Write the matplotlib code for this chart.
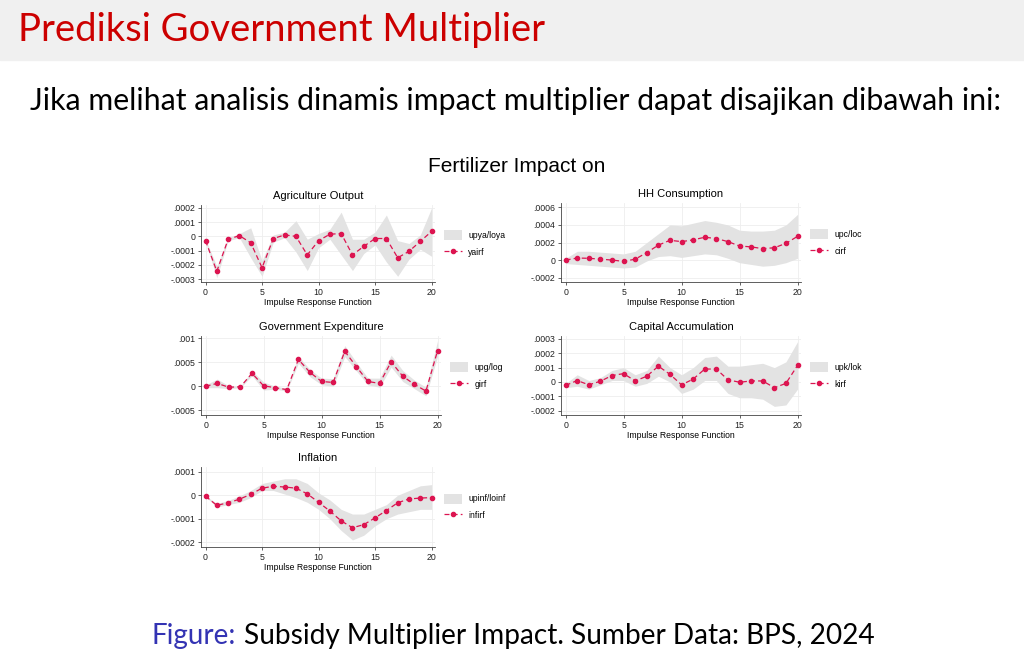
import numpy as np
import matplotlib
matplotlib.use("Agg")
import matplotlib.pyplot as plt
from matplotlib.patches import Patch, Rectangle
from matplotlib.lines import Line2D
from matplotlib.ticker import FuncFormatter

steps = list(range(21))

# Agriculture Output
agri_irf = [-0.00003, -0.000245, -0.00002, 0.000005, -0.000045, -0.00022, -0.000015, 0.00001, 0.0,
            -0.00013, -0.00003, 0.000015, 0.00002, -0.00013, -0.00007, -0.000015, -0.000015,
            -0.00015, -0.000105, -0.000035, 0.000035]
agri_up = [-0.00002, -0.00021, -0.00001, 0.00002, 0.00006, -0.00017, 0.00001, 0.00003, 0.00011,
           -0.00002, 0.00002, 0.00005, 0.00017, -0.00002, -0.00002, 0.00003, 0.00015,
           -0.00003, -0.00005, 0.00001, 0.0002]
agri_lo = [-0.00004, -0.00029, -0.00003, -0.00001, -0.00015, -0.00028, -0.00004, -0.00001, -0.00011,
           -0.00024, -0.00008, -0.00002, -0.00013, -0.00024, -0.00012, -0.00006, -0.00018,
           -0.00028, -0.00016, -0.00009, -0.00014]

# HH Consumption
hh_irf = [0.0, 0.000023, 0.00002, 0.00001, 0.0, -0.000015, 0.00001, 0.000085, 0.00017, 0.000225,
          0.00021, 0.00023, 0.00026, 0.000245, 0.00021, 0.00016, 0.00015, 0.00013, 0.00014,
          0.00019, 0.00027]
hh_up = [0.00002, 0.0001, 0.0001, 0.00009, 0.00008, 0.00007, 0.0001, 0.0002, 0.0003, 0.0004,
         0.00039, 0.00042, 0.00045, 0.00043, 0.0004, 0.00034, 0.00033, 0.00033, 0.00034,
         0.0004, 0.00052]
hh_lo = [-0.00004, -0.00005, -0.00006, -0.00007, -0.00008, -0.00009, -0.00008, -0.00001, 0.00004,
         0.00005, 0.00003, 0.00005, 0.00007, 0.00006, 0.00002, -0.00003, -0.00005, -0.00007,
         -0.00006, -0.00003, 0.00002]

# Government Expenditure
gov_irf = [0.0, 0.00006, -0.00002, -0.00001, 0.00027, 0.00001, -0.00003, -0.00007, 0.00056, 0.00029,
           0.0001, 0.00008, 0.00073, 0.00041, 0.0001, 0.00006, 0.00051, 0.00021, 0.00004,
           -0.0001, 0.00074]
gov_up = [0.00003, 0.00015, 0.00001, 0.0, 0.00032, 0.00009, 0.0, -0.00004, 0.00063, 0.00035,
          0.00017, 0.00016, 0.00085, 0.0005, 0.00017, 0.00017, 0.00065, 0.00033, 0.00013,
          -0.00002, 0.00095]
gov_lo = [-0.00003, -0.00003, -0.00005, -0.00003, 0.00022, -0.00008, -0.00006, -0.0001, 0.00048,
          0.0002, 0.00003, 0.0, 0.00062, 0.00032, 0.00003, -0.00002, 0.0004, 0.0001, -0.00005,
          -0.0002, 0.00062]

# Capital Accumulation
cap_irf = [-0.000024, 0.00001, -0.00002, 0.000005, 0.000045, 0.000058, 0.000007, 0.00004, 0.00011,
           0.000053, -0.00002, 0.00002, 0.00009, 0.00009, 0.000015, -0.000002, 0.000007,
           0.000007, -0.00004, -0.00001, 0.000115]
cap_up = [-0.00001, 0.00005, 0.00001, 0.00003, 0.00008, 0.0001, 0.00005, 0.00008, 0.00018, 0.0001,
          0.00005, 0.0001, 0.00017, 0.00018, 0.00011, 0.00011, 0.00012, 0.00013, 0.0001,
          0.00014, 0.00028]
cap_lo = [-0.00004, -0.00003, -0.00005, -0.00002, 0.00001, 0.00001, -0.00003, -0.00001, 0.00004,
          0.0, -0.00008, -0.00005, 0.00001, 0.00001, -0.00008, -0.00011, -0.00011, -0.00012,
          -0.00017, -0.00016, -0.00005]

# Inflation
inf_irf = [-0.000004, -0.000043, -0.000032, -0.000017, 0.000004, 0.00003, 0.000038, 0.000035,
           0.00003, 0.000006, -0.00003, -0.000067, -0.000109, -0.000138, -0.000125, -0.000096,
           -0.000065, -0.000032, -0.000016, -0.000012, -0.00001]
inf_up = [-0.000002, -0.000035, -0.000022, -0.000003, 0.00002, 0.00005, 0.00006, 0.00007, 0.00007,
          0.00005, 0.00001, -0.00002, -0.00006, -0.00008, -0.00008, -0.00006, -0.00004, 0.0,
          0.00002, 0.00004, 0.000045]
inf_lo = [-0.000006, -0.00005, -0.00004, -0.00003, -0.00001, 0.00002, 0.00002, 0.000005, -0.00001,
          -0.00003, -0.00006, -0.0001, -0.00015, -0.00019, -0.00017, -0.00013, -0.0001,
          -0.00008, -0.00007, -0.00006, -0.00006]

panels = [
    ("Agriculture Output", agri_irf, agri_up, agri_lo, "upya/loya", "yairf",
     [-0.0003, -0.0002, -0.0001, 0, 0.0001, 0.0002], (-0.00032, 0.00022), (201, 205, 435, 282)),
    ("HH Consumption", hh_irf, hh_up, hh_lo, "upc/loc", "cirf",
     [-0.0002, 0, 0.0002, 0.0004, 0.0006], (-0.00025, 0.00065), (561, 203, 801, 282)),
    ("Government Expenditure", gov_irf, gov_up, gov_lo, "upg/log", "girf",
     [-0.0005, 0, 0.0005, 0.001], (-0.0006, 0.00105), (201, 336, 441, 415)),
    ("Capital Accumulation", cap_irf, cap_up, cap_lo, "upk/lok", "kirf",
     [-0.0002, -0.0001, 0, 0.0001, 0.0002, 0.0003], (-0.00023, 0.00032), (561, 336, 801, 415)),
    ("Inflation", inf_irf, inf_up, inf_lo, "upinf/loinf", "infirf",
     [-0.0002, -0.0001, 0, 0.0001], (-0.00022, 0.00012), (201, 467, 435, 547)),
]

W, H = 1024, 671
fig = plt.figure(figsize=(W / 100, H / 100), dpi=100)
red = "#dc1450"
band = "#e3e3e3"
chart_font = "Liberation Sans"


def fmt(v, pos):
    if abs(v) < 1e-12:
        return "0"
    s = f"{v:.4f}".rstrip("0").rstrip(".")
    return s.replace("0.", ".", 1)


# slide header
fig.patches.append(Rectangle((0, 1 - 60 / H), 1, 60 / H, transform=fig.transFigure,
                             color="#f0f0f0", zorder=0))
fig.text(18 / W, 1 - 30 / H, "Prediksi Government Multiplier", color="#cc0000",
         fontsize=27.5, family="Lato", va="center", ha="left")
fig.text(30 / W, 1 - 101 / H, "Jika melihat analisis dinamis impact multiplier dapat disajikan dibawah ini:",
         fontsize=21.8, family="Lato", va="center", ha="left")
fig.text(517 / W, 1 - 166 / H, "Fertilizer Impact on", fontsize=15, family=chart_font,
         va="center", ha="center")

for title, irf, up, lo, band_lab, line_lab, yt, ylim, box in panels:
    x0, y0, x1, y1 = box
    ax = fig.add_axes([x0 / W, 1 - y1 / H, (x1 - x0) / W, (y1 - y0) / H])
    ax.fill_between(steps, lo, up, color=band, lw=0)
    ax.plot(steps, irf, color=red, ls=(0, (4, 2.5)), lw=0.9, marker="o", ms=3)
    ax.set_xlim(-0.4, 20.3)
    ax.set_ylim(*ylim)
    ax.set_xticks([0, 5, 10, 15, 20])
    ax.set_yticks(yt)
    ax.yaxis.set_major_formatter(FuncFormatter(fmt))
    ax.grid(True, color="#eeeeee", lw=0.6)
    ax.set_axisbelow(True)
    for s in ["top", "right"]:
        ax.spines[s].set_visible(False)
    for s in ["left", "bottom"]:
        ax.spines[s].set_color("#444444")
        ax.spines[s].set_linewidth(0.6)
    ax.tick_params(labelsize=6.3, length=2.5, width=0.5, pad=1.5, colors="#222222")
    for lab in ax.get_xticklabels() + ax.get_yticklabels():
        lab.set_family(chart_font)
    ax.set_title(title, fontsize=8.0, family=chart_font, pad=4)
    ax.set_xlabel("Impulse Response Function", fontsize=6.2, family=chart_font, labelpad=1)
    handles = [Patch(color=band, lw=0),
               Line2D([], [], color=red, ls=(0, (4, 2.5)), lw=0.9, marker="o", ms=3)]
    ax.legend(handles, [band_lab, line_lab], loc="center left", bbox_to_anchor=(1.025, 0.5),
              frameon=False, prop={"family": chart_font, "size": 6.2}, handlelength=2.0,
              handleheight=1.4, handletextpad=0.8, labelspacing=0.8, borderaxespad=0)

# caption
fig.text(152 / W, 1 - 636 / H, "Figure:", color="#3333b3", fontsize=20, family="Lato",
         va="center", ha="left")
fig.text(244 / W, 1 - 636 / H, "Subsidy Multiplier Impact. Sumber Data: BPS, 2024",
         fontsize=20.2, family="Lato", va="center", ha="left")

fig.savefig("out.png", dpi=100)
